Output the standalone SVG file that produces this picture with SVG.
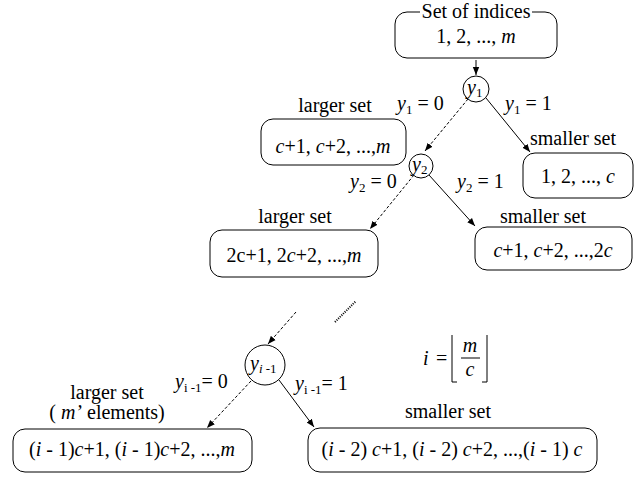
<svg xmlns="http://www.w3.org/2000/svg" width="640" height="479" viewBox="0 0 640 479">
<style>
text{font-family:"Liberation Serif","Times New Roman","DejaVu Serif",serif;font-size:20px;fill:#000}
.c{text-anchor:middle}
.i{font-style:italic}
.s{font-size:13px}
.box{fill:#fff;stroke:#000;stroke-width:1}
.node{fill:#fff;stroke:#000;stroke-width:1}
.sol{stroke:#000;stroke-width:1;fill:none}
.dash{stroke:#000;stroke-width:1;fill:none;stroke-dasharray:3 2}
</style>
<defs>
<marker id="ah" viewBox="0 0 10 10" refX="10" refY="5" markerWidth="8" markerHeight="8" markerUnits="userSpaceOnUse" orient="auto">
<path d="M0,1 L10,5 L0,9 Z" fill="#000"/>
</marker>
</defs>
<rect width="640" height="479" fill="#fff"/>

<g id="connectors">
<line class="sol" x1="476" y1="60" x2="476" y2="75" marker-end="url(#ah)"/>
<line class="dash" x1="468" y1="99" x2="425" y2="151" marker-end="url(#ah)"/>
<line class="sol" x1="486" y1="98" x2="530" y2="152" marker-end="url(#ah)"/>
<line class="dash" x1="414" y1="175" x2="370" y2="229" marker-end="url(#ah)"/>
<line class="sol" x1="429" y1="175" x2="475" y2="226" marker-end="url(#ah)"/>
<line class="dash" x1="296" y1="312" x2="268" y2="344" marker-end="url(#ah)"/>
<line x1="335" y1="322" x2="356" y2="301" stroke="#000" stroke-width="2" stroke-dasharray="1 1.3"/>
<line class="dash" x1="251" y1="381" x2="207" y2="428" marker-end="url(#ah)"/>
<line class="sol" x1="279" y1="380" x2="314" y2="427" marker-end="url(#ah)"/>
</g>

<g id="root">
<rect class="box" x="395" y="12" width="162" height="46" rx="12"/>
<rect x="420" y="4" width="112" height="16" fill="#fff"/>
<text class="c" x="476" y="18">Set of indices</text>
<text class="c" x="476" y="43">1, 2, ..., <tspan class="i">m</tspan></text>
</g>

<g id="y1">
<circle class="node" cx="476" cy="89" r="13"/>
<text x="467" y="94"><tspan class="i">y</tspan><tspan class="s" dy="3">1</tspan></text>
</g>

<g id="larger1">
<text class="c" x="335" y="112">larger set</text>
<rect class="box" x="261" y="119" width="145" height="46" rx="12"/>
<text class="c" x="333" y="153"><tspan class="i">c</tspan>+1, <tspan class="i">c</tspan>+2, ...,<tspan class="i">m</tspan></text>
</g>

<g id="smaller1">
<text class="c" x="573" y="145">smaller set</text>
<rect class="box" x="523" y="153" width="110" height="45" rx="12"/>
<text class="c" x="578" y="183">1, 2, ...,  <tspan class="i">c</tspan></text>
</g>

<g id="y2">
<circle class="node" cx="421" cy="166" r="12"/>
<text x="412" y="171"><tspan class="i">y</tspan><tspan class="s" dy="3">2</tspan></text>
</g>

<g id="larger2">
<text class="c" x="295" y="223">larger set</text>
<rect class="box" x="210" y="230" width="168" height="47" rx="12"/>
<text class="c" x="294" y="262">2c+1, 2<tspan class="i">c</tspan>+2, ...,<tspan class="i">m</tspan></text>
</g>

<g id="smaller2">
<text class="c" x="543" y="223">smaller set</text>
<rect class="box" x="475" y="227" width="157" height="43" rx="12"/>
<text class="c" x="553" y="257"><tspan class="i">c</tspan>+1, <tspan class="i">c</tspan>+2, ...,2<tspan class="i">c</tspan></text>
</g>

<g id="yi">
<circle class="node" cx="265" cy="365" r="20"/>
<text x="250" y="370"><tspan class="i">y</tspan><tspan class="s i" dy="3">i</tspan><tspan class="s"> -1</tspan></text>
</g>

<g id="larger3">
<text class="c" x="107" y="399">larger set</text>
<text class="c" x="107" y="419">( <tspan class="i">m’</tspan> elements)</text>
<rect class="box" x="13" y="429" width="239" height="43" rx="12"/>
<text class="c" x="132" y="456">(<tspan class="i">i</tspan> - 1)<tspan class="i">c</tspan>+1, (<tspan class="i">i</tspan> - 1)<tspan class="i">c</tspan>+2, ...,<tspan class="i">m</tspan></text>
</g>

<g id="smaller3">
<text class="c" x="448" y="418">smaller set</text>
<rect class="box" x="308" y="428" width="289" height="44" rx="12"/>
<text class="c" x="452" y="456">(<tspan class="i">i</tspan> - 2) <tspan class="i">c</tspan>+1, (<tspan class="i">i</tspan> - 2) <tspan class="i">c</tspan>+2, ...,(<tspan class="i">i</tspan> - 1) <tspan class="i">c</tspan></text>
</g>

<g id="labels">
<text x="397" y="110"><tspan class="i">y</tspan><tspan class="s" dy="4">1</tspan><tspan dy="-4"> = 0</tspan></text>
<text x="505" y="110"><tspan class="i">y</tspan><tspan class="s" dy="4">1</tspan><tspan dy="-4"> = 1</tspan></text>
<text x="350" y="188"><tspan class="i">y</tspan><tspan class="s" dy="4">2</tspan><tspan dy="-4"> = 0</tspan></text>
<text x="457" y="188"><tspan class="i">y</tspan><tspan class="s" dy="4">2</tspan><tspan dy="-4"> = 1</tspan></text>
<text x="175" y="388"><tspan class="i">y</tspan><tspan class="s" dy="4">i -1</tspan><tspan dy="-4">= 0</tspan></text>
<text x="295" y="390"><tspan class="i">y</tspan><tspan class="s" dy="4">i -1</tspan><tspan dy="-4">= 1</tspan></text>
</g>

<g id="formula">
<text x="423" y="365" class="i">i</text>
<text x="436" y="365">=</text>
<path d="M452,335 V382 H457 M487,335 V382 H482" fill="none" stroke="#000" stroke-width="1"/>
<text class="c i" x="470" y="352">m</text>
<line x1="461" y1="358" x2="480" y2="358" stroke="#000" stroke-width="1"/>
<text class="c i" x="470" y="376">c</text>
</g>
</svg>
